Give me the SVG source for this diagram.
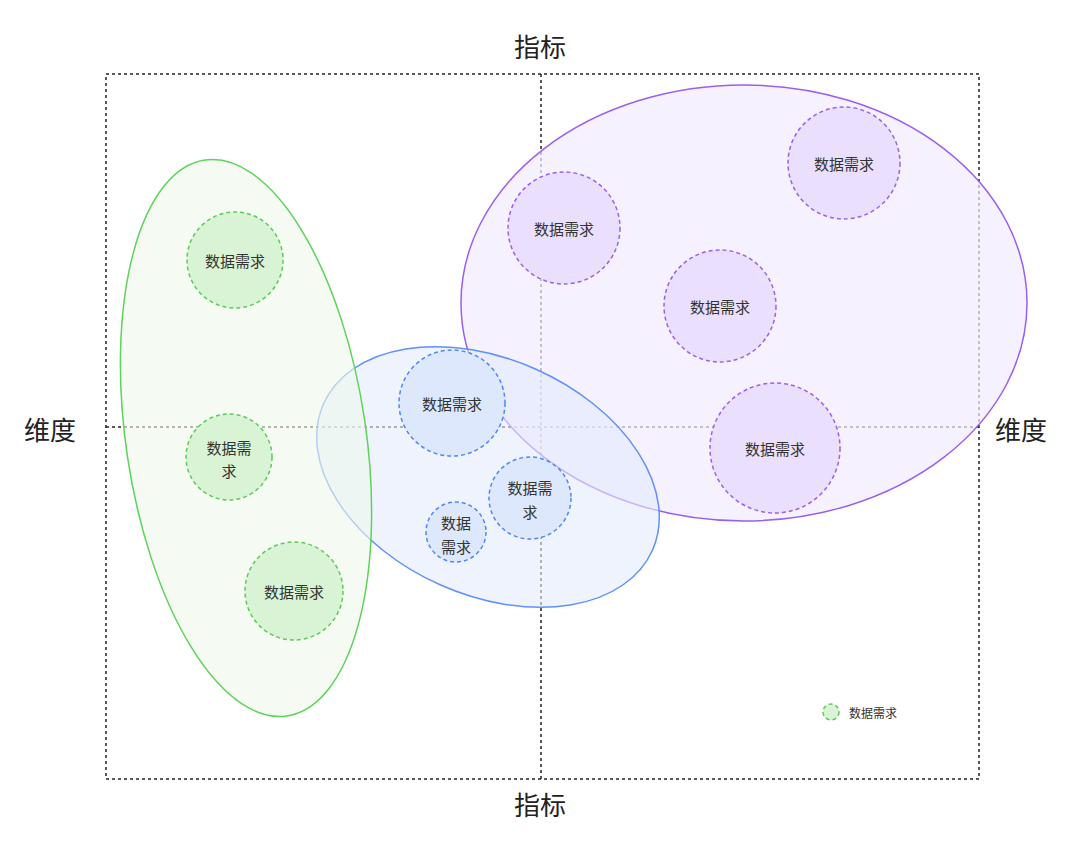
<svg xmlns="http://www.w3.org/2000/svg" width="1080" height="846" viewBox="0 0 1080 846">
<style>
.f{stroke:#222;stroke-width:1.5;stroke-dasharray:3,3;fill:none}
.ax{font-family:"Noto Sans CJK SC",sans-serif;font-size:26px;fill:#222;text-anchor:middle;dominant-baseline:central}
.t{font-family:"Noto Sans CJK SC",sans-serif;font-size:15px;fill:#333;text-anchor:middle;dominant-baseline:central}
.gc{fill:#d9f4d4;stroke:#5ccb57;stroke-width:1.5;stroke-dasharray:4,3}
.bc{fill:#dde8fd;stroke:#4f86f7;stroke-width:1.5;stroke-dasharray:4,3}
.pc{fill:#eadffc;stroke:#9b5ef2;stroke-width:1.5;stroke-dasharray:4,3}
</style>
<rect width="1080" height="846" fill="#fff"/>
<g id="frame">
<rect class="f" x="106" y="74" width="873" height="705"/>
<line class="f" x1="541" y1="74" x2="541" y2="779"/>
<line class="f" x1="106" y1="427" x2="979" y2="427"/>
</g>
<text class="ax" x="540" y="45">指标</text>
<text class="ax" x="540" y="803">指标</text>
<text class="ax" x="50" y="428">维度</text>
<text class="ax" x="1021" y="428">维度</text>
<g id="group-purple"><ellipse cx="744" cy="303" rx="283" ry="218" fill="#f2ebfd" fill-opacity="0.7" stroke="#9b5ef2" stroke-width="1.5"/></g>
<g id="group-blue"><ellipse cx="488" cy="477" rx="180" ry="118" transform="rotate(24 488 477)" fill="#e2ebfd" fill-opacity="0.6" stroke="#4f86f7" stroke-width="1.5" stroke-opacity="0.9"/></g>
<g id="group-green"><ellipse cx="246" cy="438" rx="120" ry="281" transform="rotate(-8.4 246 438)" fill="#eef9eb" fill-opacity="0.6" stroke="#5dd35a" stroke-width="1.5"/></g>
<g id="g1"><circle class="gc" cx="235" cy="260" r="48"/><text class="t" x="235" y="260">数据需求</text></g>
<g id="g2"><circle class="gc" cx="229" cy="457" r="43"/><text class="t" x="229" y="447">数据需</text><text class="t" x="229" y="470">求</text></g>
<g id="g3"><circle class="gc" cx="294" cy="591" r="49"/><text class="t" x="294" y="591">数据需求</text></g>
<g id="b1"><circle class="bc" cx="452" cy="403" r="53"/><text class="t" x="452" y="403">数据需求</text></g>
<g id="b2"><circle class="bc" cx="530" cy="498" r="41"/><text class="t" x="530" y="487">数据需</text><text class="t" x="530" y="511">求</text></g>
<g id="b3"><circle class="bc" cx="456" cy="532" r="30"/><text class="t" x="456" y="522">数据</text><text class="t" x="456" y="546">需求</text></g>
<g id="p1"><circle class="pc" cx="564" cy="228" r="56"/><text class="t" x="564" y="228">数据需求</text></g>
<g id="p2"><circle class="pc" cx="844" cy="163" r="56"/><text class="t" x="844" y="163">数据需求</text></g>
<g id="p3"><circle class="pc" cx="720" cy="306" r="56"/><text class="t" x="720" y="306">数据需求</text></g>
<g id="p4"><circle class="pc" cx="775" cy="448" r="65"/><text class="t" x="775" y="448">数据需求</text></g>
<g id="legend"><circle class="gc" cx="831" cy="712" r="8"/><text class="t" x="849" y="712" style="font-size:12px;text-anchor:start">数据需求</text></g>
<g id="connectors"/>
</svg>
